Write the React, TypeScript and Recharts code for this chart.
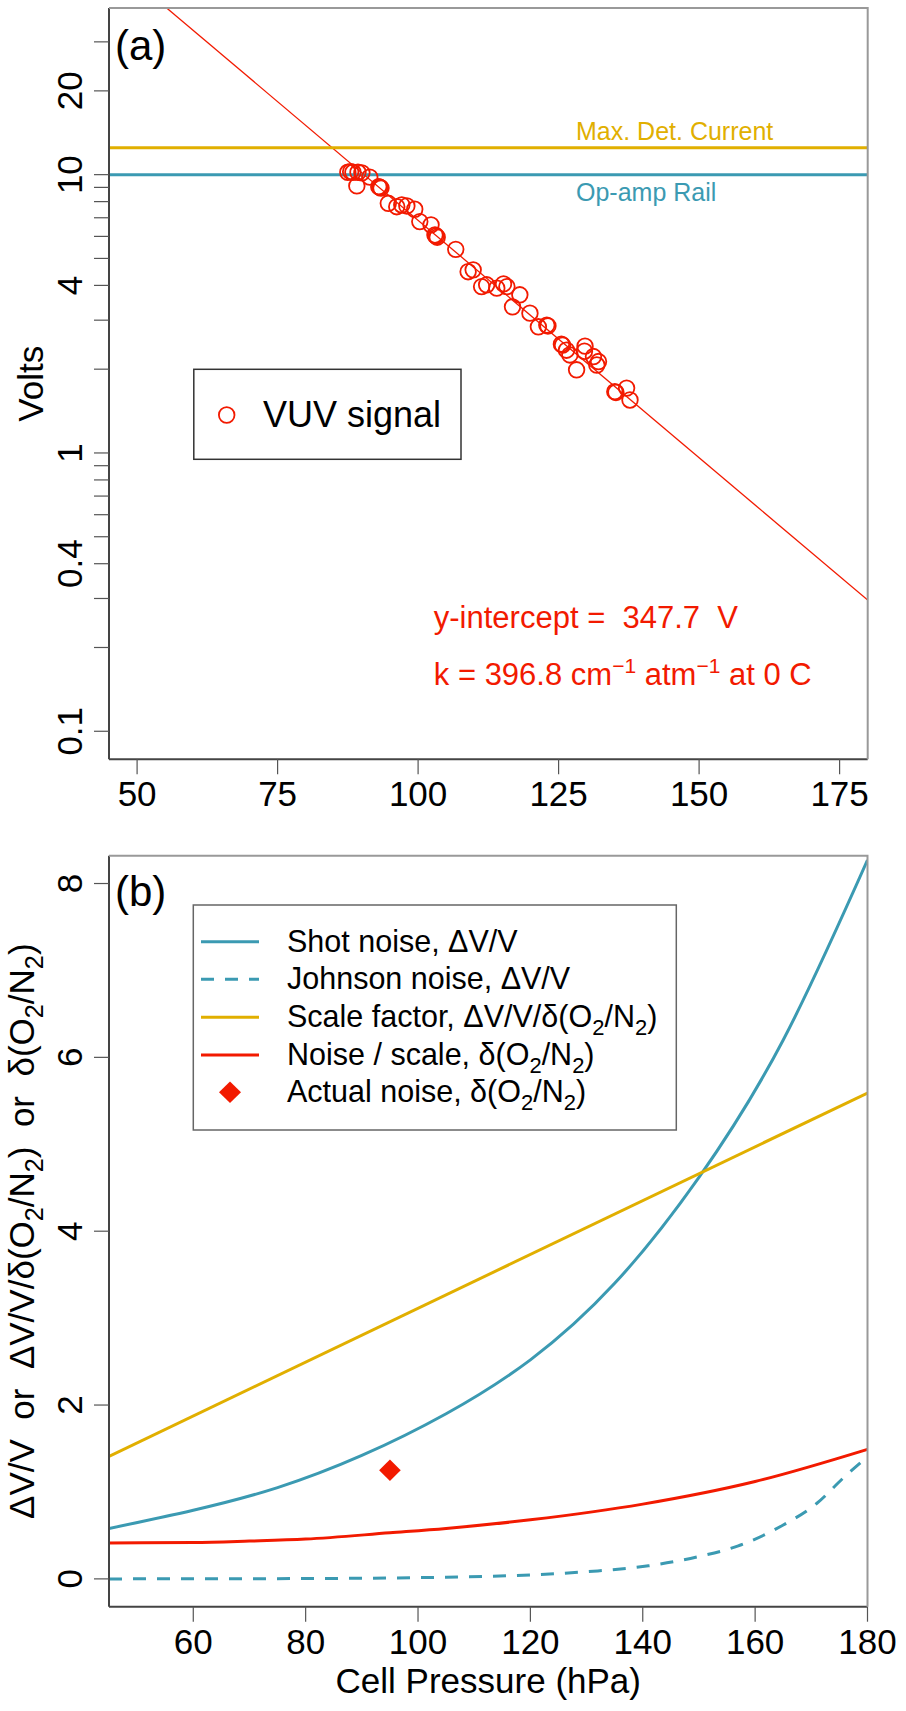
import React from "react";
import {
  ComposedChart,
  Line,
  Scatter,
  XAxis,
  YAxis,
  ReferenceLine,
} from "recharts";

const FONT = "'Liberation Sans', Arial, Helvetica, sans-serif";
const TEAL = "#3B9AB2";
const GOLD = "#E1AF00";
const RED = "#F21A00";

// ---- panel (a): VUV signal vs cell pressure (hPa, Volts) ----
const signalPressure = [
  87.5, 88.0, 88.4, 89.3, 90.0, 89.1, 91.4, 93.0, 93.2, 93.4, 94.7, 96.2,
  97.1, 98.0, 99.4, 100.3, 102.3, 103.0, 103.2, 103.4, 106.7, 108.9, 109.8,
  111.3, 112.2, 114.0, 115.2, 115.8, 116.8, 118.1, 119.9, 121.4, 122.9, 123.1,
  125.5, 125.7, 126.4, 127.0, 128.2, 129.6, 129.7, 131.2, 131.8, 132.1, 135.0,
  135.2, 137.1, 137.7,
];
const signalVolts = [
  10.2, 10.25, 10.2, 10.2, 10.15, 9.11, 9.8, 9.05, 9.01, 8.95, 7.89, 7.67,
  7.78, 7.72, 7.51, 6.78, 6.6, 6.07, 6.02, 5.96, 5.39, 4.48, 4.55, 3.96, 4.02,
  3.91, 4.05, 3.96, 3.35, 3.7, 3.18, 2.84, 2.88, 2.86, 2.46, 2.44, 2.34, 2.25,
  1.99, 2.32, 2.42, 2.22, 2.07, 2.13, 1.66, 1.65, 1.71, 1.55,
];
const fitPressure = [45, 180];
const fitVolts = [59.4, 0.296];
const maxDetCurrent = 12.5;
const opAmpRail = 10;
const xTicksA = [50, 75, 100, 125, 150, 175];
const yTicksA = [
  0.1, 0.2, 0.3, 0.4, 0.5, 0.6, 0.7, 0.8, 0.9, 1, 2, 3, 4, 5, 6, 7, 8, 9, 10,
  20, 30,
];
const yLabelsA = [0.1, 0.4, 1, 4, 10, 20];

// ---- panel (b): noise terms vs cell pressure ----
const shotP = [45, 60, 75, 90, 105, 120, 135, 150, 165, 180];
const shotV = [0.58, 0.79, 1.05, 1.42, 1.9, 2.52, 3.4, 4.62, 6.2, 8.27];
const johnsonP = [45, 60, 80, 95, 105, 120, 132, 141, 150, 157, 165, 171, 176, 180];
const johnsonV = [0, 0.001, 0.004, 0.01, 0.02, 0.046, 0.092, 0.15, 0.257, 0.38, 0.62, 0.87, 1.18, 1.406];
const scaleP = [45, 180];
const scaleV = [1.41, 5.59];
const ratioP = [45, 60, 70, 80, 95, 105, 120, 140, 160, 180];
const ratioV = [0.414, 0.418, 0.435, 0.458, 0.53, 0.58, 0.68, 0.86, 1.12, 1.49];
const actualP = [95];
const actualV = [1.25];
const xTicksB = [60, 80, 100, 120, 140, 160, 180];
const yTicksB = [0, 2, 4, 6, 8];

const zip = (ps: number[], vs: number[]) => ps.map((p, i) => ({ p, v: vs[i] }));

const signalData = zip(signalPressure, signalVolts);
const fitData = zip(fitPressure, fitVolts);
const shotData = zip(shotP, shotV);
const johnsonData = zip(johnsonP, johnsonV);
const scaleData = zip(scaleP, scaleV);
const ratioData = zip(ratioP, ratioV);
const actualData = zip(actualP, actualV);

// plot boxes (page px)
const A = { left: 109, right: 867.7, top: 8, bottom: 759.3 };
const B = { top: 800, plotTop: 855.7, left: 109, right: 867.5, bottom: 1606.7 };

const YTick = (labels: number[]) => (props: any) => {
  const { x, y, payload } = props;
  const show = labels.includes(payload.value);
  return (
    <g>
      <line x1={x - 15} x2={x} y1={y} y2={y} stroke="#555" strokeWidth={1.2} />
      {show && (
        <text
          x={x - 27}
          y={y}
          transform={`rotate(-90 ${x - 27} ${y})`}
          textAnchor="middle"
          fontSize={35}
          fontFamily={FONT}
          fill="#000"
        >
          {payload.value}
        </text>
      )}
    </g>
  );
};

const XTick = (props: any) => {
  const { x, y, payload } = props;
  return (
    <g>
      <line x1={x} x2={x} y1={y} y2={y + 15} stroke="#555" strokeWidth={1.2} />
      <text x={x} y={y + 47} textAnchor="middle" fontSize={35} fontFamily={FONT} fill="#000">
        {payload.value}
      </text>
    </g>
  );
};

const OpenCircle = (props: any) => (
  <circle cx={props.cx} cy={props.cy} r={7.8} fill="none" stroke={RED} strokeWidth={1.8} />
);

const Diamond = (props: any) => {
  const { cx, cy } = props;
  const h = 10.8;
  return (
    <polygon
      points={`${cx},${cy - h} ${cx + h},${cy} ${cx},${cy + h} ${cx - h},${cy}`}
      fill={RED}
    />
  );
};

// O2/N2 with subscripts, for use inside a <text>
const O2N2 = ({ fs }: { fs: number }) => {
  const d = fs * 0.25;
  const s = fs * 0.72;
  return (
    <>
      <tspan>(O</tspan>
      <tspan dy={d} fontSize={s}>2</tspan>
      <tspan dy={-d}>/N</tspan>
      <tspan dy={d} fontSize={s}>2</tspan>
      <tspan dy={-d}>)</tspan>
    </>
  );
};

const axisLine = { stroke: "#444", strokeWidth: 2 };

const PanelA = () => (
  <div style={{ position: "absolute", left: 0, top: 0 }}>
    <ComposedChart
      width={906}
      height={860}
      margin={{ top: A.top, right: 906 - A.right, bottom: 860 - A.bottom - 50, left: 9 }}
    >
      <XAxis
        dataKey="p"
        type="number"
        domain={[45, 180]}
        ticks={xTicksA}
        interval={0}
        allowDataOverflow
        height={50}
        tickSize={0}
        tickMargin={0}
        tickLine={false}
        axisLine={axisLine}
        tick={XTick}
      />
      <YAxis
        dataKey="v"
        type="number"
        scale="log"
        domain={[0.0793, 39.7]}
        ticks={yTicksA}
        interval={0}
        allowDataOverflow
        width={100}
        tickSize={0}
        tickMargin={0}
        tickLine={false}
        axisLine={axisLine}
        tick={YTick(yLabelsA)}
      />
      <Line
        data={fitData}
        dataKey="v"
        type="linear"
        stroke={RED}
        strokeWidth={1.3}
        dot={false}
        isAnimationActive={false}
      />
      <Scatter data={signalData} dataKey="v" shape={OpenCircle} isAnimationActive={false} />
      <ReferenceLine y={maxDetCurrent} stroke={GOLD} strokeWidth={3} />
      <ReferenceLine y={opAmpRail} stroke={TEAL} strokeWidth={3} />
    </ComposedChart>
  </div>
);

const PanelB = () => (
  <div style={{ position: "absolute", left: 0, top: B.top }}>
    <ComposedChart
      width={906}
      height={911}
      margin={{
        top: B.plotTop - B.top,
        right: 906 - B.right,
        bottom: B.top + 911 - B.bottom - 50,
        left: 9,
      }}
    >
      <XAxis
        dataKey="p"
        type="number"
        domain={[45, 180]}
        ticks={xTicksB}
        interval={0}
        allowDataOverflow
        height={50}
        tickSize={0}
        tickMargin={0}
        tickLine={false}
        axisLine={axisLine}
        tick={XTick}
      />
      <YAxis
        dataKey="v"
        type="number"
        domain={[-0.32, 8.32]}
        ticks={yTicksB}
        interval={0}
        allowDataOverflow
        width={100}
        tickSize={0}
        tickMargin={0}
        tickLine={false}
        axisLine={axisLine}
        tick={YTick(yTicksB)}
      />
      <Line data={shotData} dataKey="v" type="natural" stroke={TEAL} strokeWidth={3} dot={false} isAnimationActive={false} />
      <Line data={johnsonData} dataKey="v" type="monotone" stroke={TEAL} strokeWidth={3} strokeDasharray="13 11" dot={false} isAnimationActive={false} />
      <Line data={scaleData} dataKey="v" type="linear" stroke={GOLD} strokeWidth={3} dot={false} isAnimationActive={false} />
      <Line data={ratioData} dataKey="v" type="monotone" stroke={RED} strokeWidth={3} dot={false} isAnimationActive={false} />
      <Scatter data={actualData} dataKey="v" shape={Diamond} isAnimationActive={false} />
    </ComposedChart>
  </div>
);

const legendB = [
  { y: 941.7, color: TEAL, dash: undefined, label: "Shot noise, ΔV/V", ratio: false },
  { y: 979.3, color: TEAL, dash: "13 11", label: "Johnson noise, ΔV/V", ratio: false },
  { y: 1017.3, color: GOLD, dash: undefined, label: "Scale factor, ΔV/V/δ", ratio: true },
  { y: 1055, color: RED, dash: undefined, label: "Noise / scale, δ", ratio: true },
];

const Overlay = () => {
  const fs = 30.5;
  return (
    <svg
      width={906}
      height={1711}
      style={{ position: "absolute", left: 0, top: 0, pointerEvents: "none" }}
      fontFamily={FONT}
    >
      {/* box, top and right sides */}
      <polyline
        points={`${A.left},${A.top} ${A.right},${A.top} ${A.right},${A.bottom}`}
        fill="none"
        stroke="#999"
        strokeWidth={2}
      />
      <polyline
        points={`${B.left},${B.plotTop} ${B.right},${B.plotTop} ${B.right},${B.bottom}`}
        fill="none"
        stroke="#999"
        strokeWidth={2}
      />

      {/* panel (a) texts */}
      <text x={115} y={59.5} fontSize={42}>(a)</text>
      <text x={576} y={139.5} fontSize={25} fill={GOLD}>Max. Det. Current</text>
      <text x={576} y={201} fontSize={25} fill={TEAL}>Op-amp Rail</text>
      <text
        x={43}
        y={383.7}
        fontSize={35}
        textAnchor="middle"
        transform="rotate(-90 43 383.7)"
      >
        Volts
      </text>
      <rect x={193.8} y={369.3} width={267.2} height={90} fill="white" stroke="#333" strokeWidth={1.5} />
      <circle cx={226.7} cy={415} r={7.8} fill="none" stroke={RED} strokeWidth={1.8} />
      <text x={263} y={426.7} fontSize={36}>VUV signal</text>
      <text x={433.8} y={628.3} fontSize={31} fill={RED} style={{ whiteSpace: "pre" }}>
        {"y-intercept =  347.7  V"}
      </text>
      <text x={433.8} y={685} fontSize={31} fill={RED} style={{ whiteSpace: "pre" }}>
        <tspan>k = 396.8 cm</tspan>
        <tspan dy={-12} fontSize={21}>−1</tspan>
        <tspan dy={12}> atm</tspan>
        <tspan dy={-12} fontSize={21}>−1</tspan>
        <tspan dy={12}> at 0 C</tspan>
      </text>

      {/* panel (b) texts */}
      <text x={115} y={906} fontSize={42}>(b)</text>
      <text
        x={34}
        y={1231.2}
        fontSize={35}
        textAnchor="middle"
        transform="rotate(-90 34 1231.2)"
        style={{ whiteSpace: "pre" }}
      >
        <tspan>{"ΔV/V  or  ΔV/V/δ"}</tspan>
        <O2N2 fs={35} />
        <tspan>{"  or  δ"}</tspan>
        <O2N2 fs={35} />
      </text>
      <text x={488.3} y={1693.3} fontSize={35} textAnchor="middle">
        Cell Pressure (hPa)
      </text>

      <rect x={193.3} y={905} width={483} height={225} fill="white" stroke="#666" strokeWidth={1.5} />
      {legendB.map((e) => (
        <g key={e.label}>
          <line
            x1={201}
            x2={259}
            y1={e.y}
            y2={e.y}
            stroke={e.color}
            strokeWidth={3}
            strokeDasharray={e.dash}
          />
          <text x={287} y={e.y + 10} fontSize={fs}>
            <tspan>{e.label}</tspan>
            {e.ratio && <O2N2 fs={fs} />}
          </text>
        </g>
      ))}
      <polygon points="230,1081.5 241,1092.3 230,1103.1 219,1092.3" fill={RED} />
      <text x={287} y={1102.3} fontSize={fs}>
        <tspan>Actual noise, δ</tspan>
        <O2N2 fs={fs} />
      </text>
    </svg>
  );
};

const App = () => (
  <div
    style={{
      position: "absolute",
      left: 0,
      top: 0,
      width: 906,
      height: 1711,
      background: "white",
      fontFamily: FONT,
    }}
  >
    <PanelA />
    <PanelB />
    <Overlay />
  </div>
);

export default App;
